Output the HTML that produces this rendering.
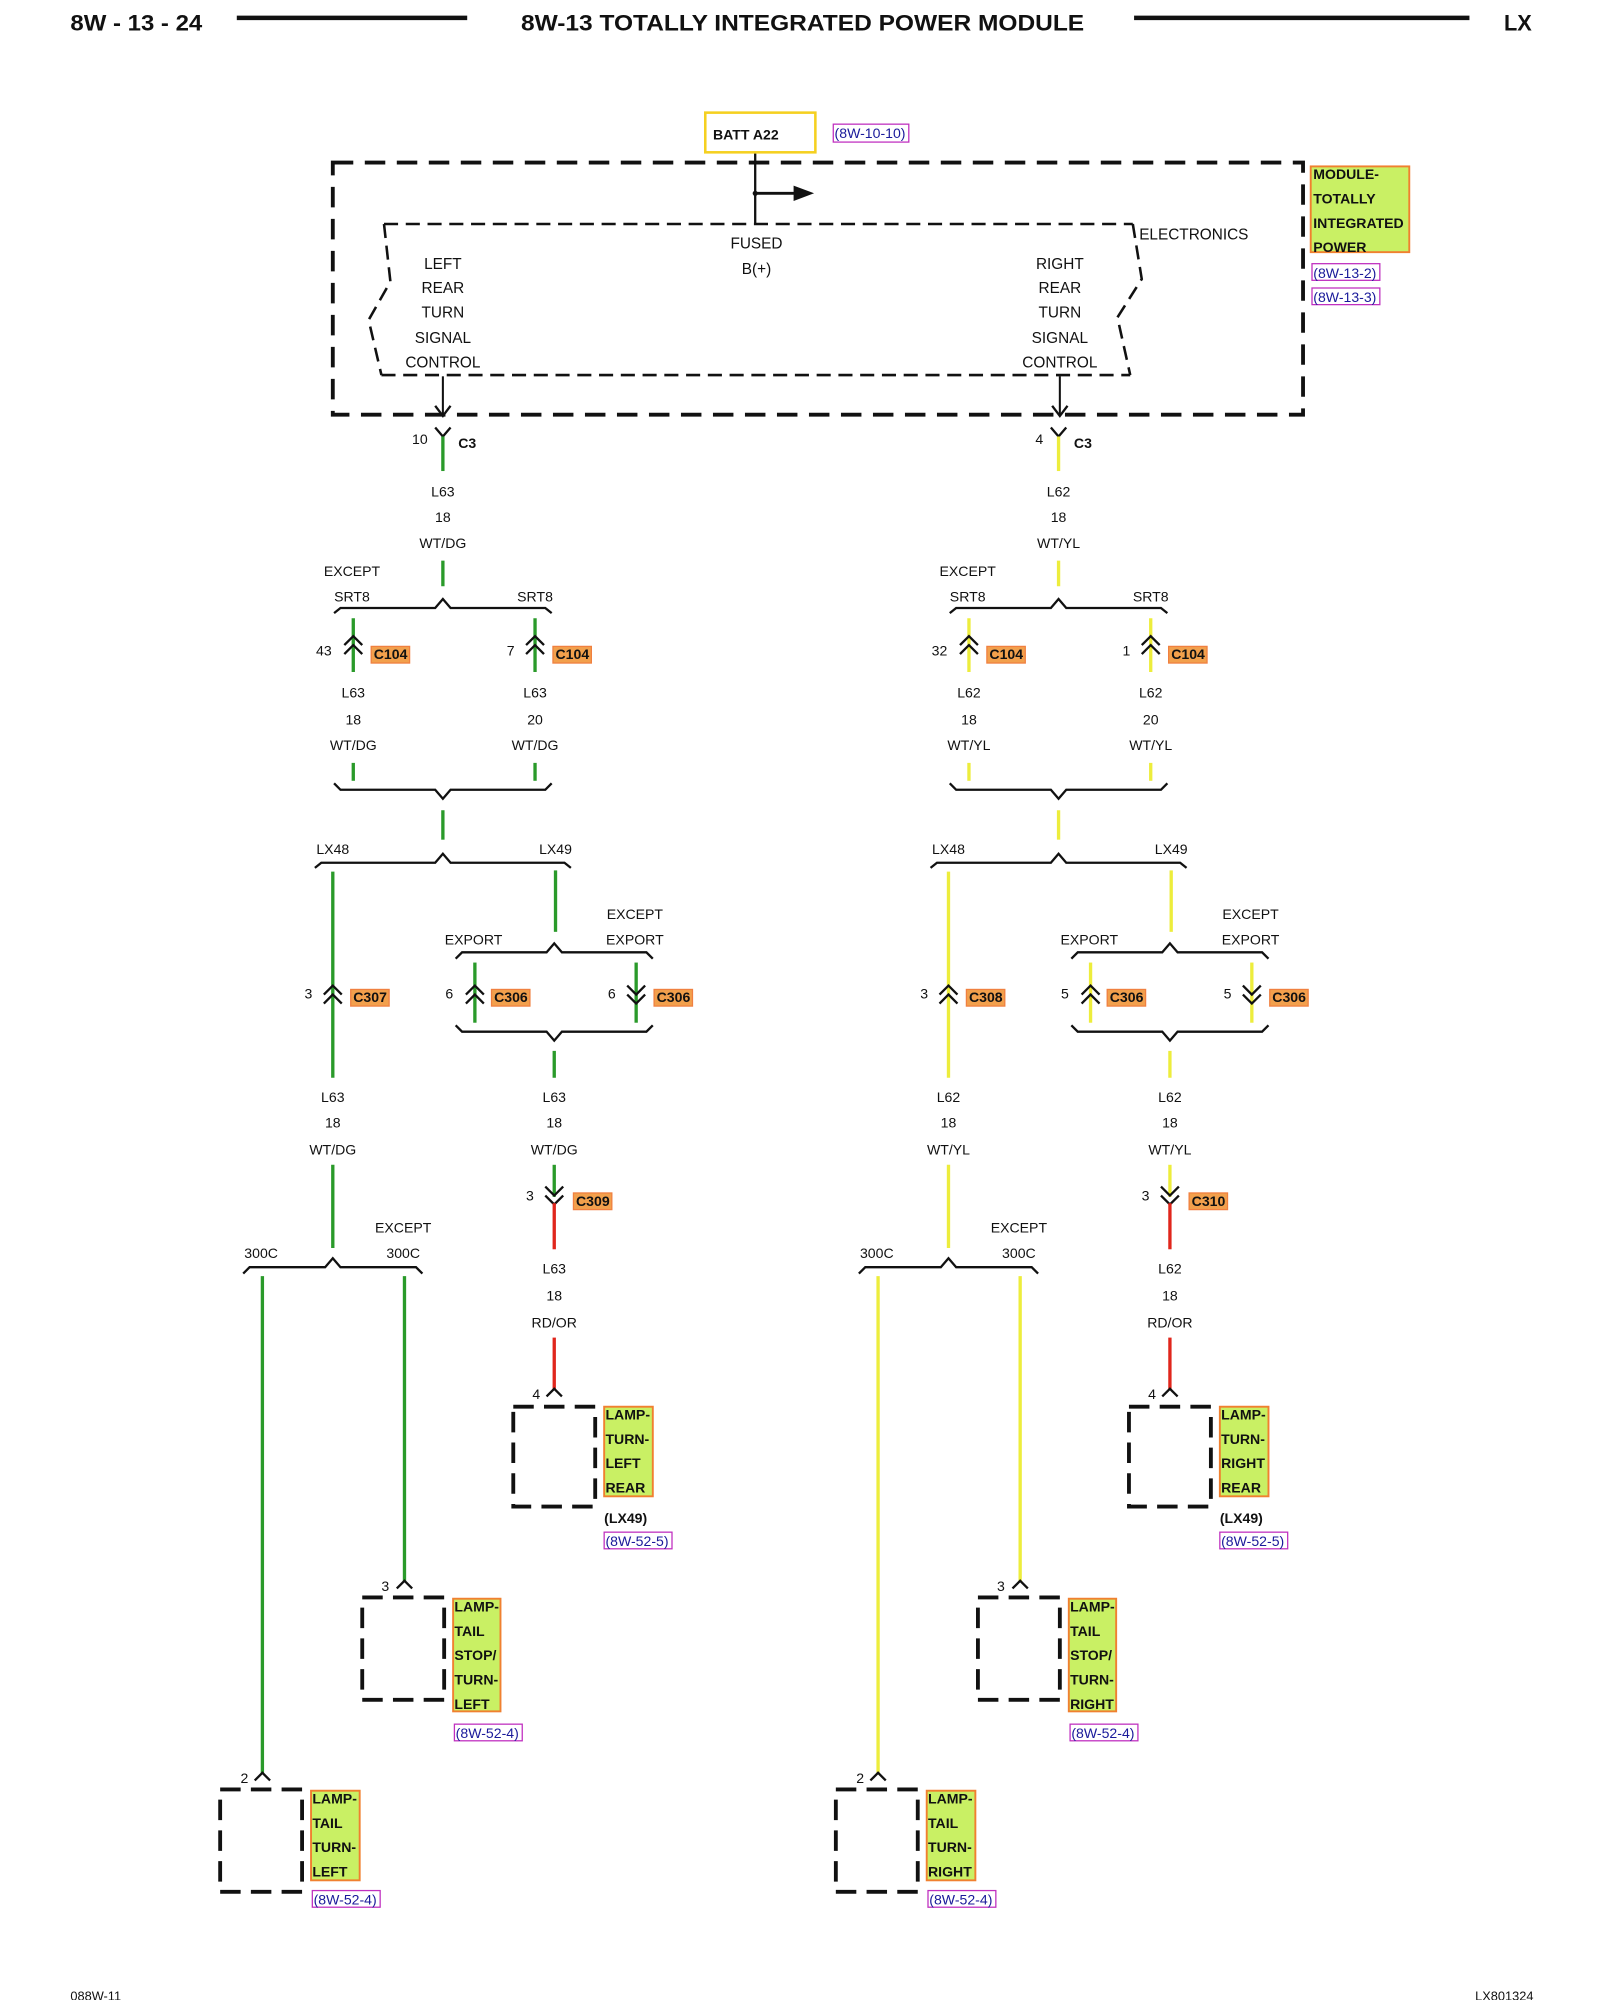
<!DOCTYPE html>
<html><head><meta charset="utf-8"><style>
html,body{margin:0;padding:0;background:#fff;}
svg{display:block;}
text{font-family:"Liberation Sans",sans-serif;fill:#111;}
.t{font-size:12px;text-anchor:middle;}
.n{font-size:11px;text-anchor:middle;}
.b{font-weight:bold;}
.lb{font-size:11px;font-weight:bold;}
.k{fill:none;stroke:#111;stroke-width:1.8;}
.g{stroke:#2a9a2a;stroke-width:2.6;fill:none;}
.y{stroke:#eded3c;stroke-width:2.6;fill:none;}
.r{stroke:#e0261c;stroke-width:2.6;fill:none;}
.cl{fill:#f2a04c;stroke:#f08040;stroke-width:1;}
.ll{fill:#c9f064;stroke:#f08030;stroke-width:1.5;}
.ref{fill:none;stroke:#c030c0;stroke-width:1;}
.rt{font-size:11px;fill:#1a1a9a;}
.box{fill:none;stroke:#111;stroke-width:3;stroke-dasharray:16,8;}
</style></head><body>
<svg width="1600" height="2000" viewBox="0 0 1250 1562.5" xmlns="http://www.w3.org/2000/svg">
<!-- header -->
<text x="55" y="24" style="font-size:17px;font-weight:bold;" textLength="103" lengthAdjust="spacingAndGlyphs">8W - 13 - 24</text>
<line x1="185" y1="14" x2="365" y2="14" stroke="#111" stroke-width="3.5"/>
<text x="407" y="24" style="font-size:17px;font-weight:bold;" textLength="440" lengthAdjust="spacingAndGlyphs">8W-13 TOTALLY INTEGRATED POWER MODULE</text>
<line x1="886" y1="14" x2="1148" y2="14" stroke="#111" stroke-width="3.5"/>
<text x="1175" y="24" style="font-size:17px;font-weight:bold;">LX</text>
<text x="55" y="1563" style="font-size:10px;">088W-11</text>
<text x="1198" y="1563" style="font-size:10px;text-anchor:end;">LX801324</text>

<!-- module -->
<rect x="551" y="88" width="86" height="31" fill="none" stroke="#f5d020" stroke-width="2"/>
<text x="557" y="109" class="lb">BATT A22</text>
<rect x="651" y="97" width="59" height="14" class="ref"/>
<text x="652" y="108" class="rt">(8W-10-10)</text>
<rect x="260" y="127" width="758" height="197" fill="none" stroke="#111" stroke-width="3" stroke-dasharray="16,9"/>
<polyline points="300,175 885,175" fill="none" stroke="#111" stroke-width="2" stroke-dasharray="11,6"/>
<polyline points="298,293 883,293" fill="none" stroke="#111" stroke-width="2" stroke-dasharray="11,6"/>
<polyline points="300,175 305,220 288,250 298,293" fill="none" stroke="#111" stroke-width="2" stroke-dasharray="11,6"/>
<polyline points="885,175 892,218 873,248 883,293" fill="none" stroke="#111" stroke-width="2" stroke-dasharray="11,6"/>
<line x1="590" y1="120" x2="590" y2="175" stroke="#111" stroke-width="1.8"/>
<line x1="590" y1="151" x2="622" y2="151" stroke="#111" stroke-width="2.2"/>
<polygon points="620,145 636,151 620,157" fill="#111"/>
<circle cx="590" cy="151" r="2" fill="#111"/>
<text x="591" y="194" class="t">FUSED</text>
<text x="591" y="214" class="t">B(+)</text>
<text x="890" y="187" style="font-size:12px;">ELECTRONICS</text>
<text x="346" y="210" class="t">LEFT</text><text x="346" y="229" class="t">REAR</text><text x="346" y="248" class="t">TURN</text><text x="346" y="268" class="t">SIGNAL</text><text x="346" y="287" class="t">CONTROL</text>
<text x="828" y="210" class="t">RIGHT</text><text x="828" y="229" class="t">REAR</text><text x="828" y="248" class="t">TURN</text><text x="828" y="268" class="t">SIGNAL</text><text x="828" y="287" class="t">CONTROL</text>
<rect x="1024" y="130" width="77" height="67" class="ll"/>
<text x="1026" y="140" class="lb">MODULE-</text><text x="1026" y="159" class="lb">TOTALLY</text><text x="1026" y="178" class="lb">INTEGRATED</text><text x="1026" y="197" class="lb">POWER</text>
<rect x="1025" y="206" width="53" height="13" class="ref"/><text x="1026" y="217" class="rt">(8W-13-2)</text>
<rect x="1025" y="225" width="53" height="13" class="ref"/><text x="1026" y="236" class="rt">(8W-13-3)</text>

<!-- LEFT SIDE -->
<g>
<line x1="346" y1="294" x2="346" y2="325" stroke="#111" stroke-width="1.6"/>
<polyline points="340,317 346,325 352,317" class="k"/>
<polyline points="340,334 346,341 352,334" class="k"/>
<line x1="346" y1="341" x2="346" y2="368" class="g"/>
<text x="328" y="347" class="n">10</text>
<text x="358" y="350" class="lb">C3</text>
<text x="346" y="388" class="n">L63</text><text x="346" y="408" class="n">18</text><text x="346" y="428" class="n">WT/DG</text>
<line x1="346" y1="438" x2="346" y2="458" class="g"/>
<text x="275" y="450" class="n">EXCEPT</text><text x="275" y="470" class="n">SRT8</text><text x="418" y="470" class="n">SRT8</text>
<polyline points="261,479 266,475 340,475 346,468 352,475 426,475 431,479" class="k"/>
<line x1="276" y1="483" x2="276" y2="525" class="g"/>
<line x1="418" y1="483" x2="418" y2="525" class="g"/>
<polyline points="269,504 276,497 283,504" class="k"/><polyline points="269,511 276,504 283,511" class="k"/>
<polyline points="411,504 418,497 425,504" class="k"/><polyline points="411,511 418,504 425,511" class="k"/>
<text x="253" y="512" class="n">43</text><text x="399" y="512" class="n">7</text>
<rect x="290" y="505" width="30" height="13" class="cl"/><text x="292" y="515" class="lb">C104</text>
<rect x="432" y="505" width="30" height="13" class="cl"/><text x="434" y="515" class="lb">C104</text>
<text x="276" y="545" class="n">L63</text><text x="276" y="566" class="n">18</text><text x="276" y="586" class="n">WT/DG</text>
<text x="418" y="545" class="n">L63</text><text x="418" y="566" class="n">20</text><text x="418" y="586" class="n">WT/DG</text>
<line x1="276" y1="596" x2="276" y2="610" class="g"/><line x1="418" y1="596" x2="418" y2="610" class="g"/>
<polyline points="261,612 266,617 340,617 346,624 352,617 426,617 431,612" class="k"/>
<line x1="346" y1="633" x2="346" y2="656" class="g"/>
<text x="260" y="667" class="n">LX48</text><text x="434" y="667" class="n">LX49</text>
<polyline points="246,678 251,674 340,674 346,667 352,674 441,674 446,678" class="k"/>
<line x1="260" y1="681" x2="260" y2="842" class="g"/>
<line x1="260" y1="910" x2="260" y2="975" class="g"/>
<polyline points="253,777 260,770 267,777" class="k"/><polyline points="253,784 260,777 267,784" class="k"/>
<text x="241" y="780" class="n">3</text>
<rect x="274" y="773" width="30" height="13" class="cl"/><text x="276" y="783" class="lb">C307</text>
<line x1="434" y1="680" x2="434" y2="728" class="g"/>
<text x="370" y="738" class="n">EXPORT</text><text x="496" y="718" class="n">EXCEPT</text><text x="496" y="738" class="n">EXPORT</text>
<polyline points="356,749 361,744 427,744 433,737 439,744 505,744 510,749" class="k"/>
<line x1="371" y1="752" x2="371" y2="799" class="g"/>
<line x1="497" y1="752" x2="497" y2="799" class="g"/>
<polyline points="364,777 371,770 378,777" class="k"/><polyline points="364,784 371,777 378,784" class="k"/>
<polyline points="490,770 497,777 504,770" class="k"/><polyline points="490,777 497,784 504,777" class="k"/>
<text x="351" y="780" class="n">6</text><text x="478" y="780" class="n">6</text>
<rect x="384" y="773" width="30" height="13" class="cl"/><text x="386" y="783" class="lb">C306</text>
<rect x="511" y="773" width="30" height="13" class="cl"/><text x="513" y="783" class="lb">C306</text>
<polyline points="356,801 361,806 427,806 433,813 439,806 505,806 510,801" class="k"/>
<line x1="433" y1="821" x2="433" y2="842" class="g"/>
<text x="260" y="861" class="n">L63</text><text x="260" y="881" class="n">18</text><text x="260" y="902" class="n">WT/DG</text>
<text x="433" y="861" class="n">L63</text><text x="433" y="881" class="n">18</text><text x="433" y="902" class="n">WT/DG</text>
<line x1="433" y1="910" x2="433" y2="935" class="g"/>
<polyline points="426,927 433,934 440,927" class="k"/><polyline points="426,934 433,941 440,934" class="k"/>
<line x1="433" y1="940" x2="433" y2="976" class="r"/>
<text x="414" y="938" class="n">3</text>
<rect x="448" y="932" width="30" height="13" class="cl"/><text x="450" y="942" class="lb">C309</text>
<text x="433" y="995" class="n">L63</text><text x="433" y="1016" class="n">18</text><text x="433" y="1037" class="n">RD/OR</text>
<line x1="433" y1="1045" x2="433" y2="1086" class="r"/>
<polyline points="427,1091 433,1085 439,1091" class="k"/>
<text x="419" y="1093" class="n">4</text>
<rect x="401" y="1099" width="64" height="78" class="box"/>
<rect x="472" y="1099" width="38" height="70" class="ll"/>
<text x="473" y="1109" class="lb">LAMP-</text><text x="473" y="1128" class="lb">TURN-</text><text x="473" y="1147" class="lb">LEFT</text><text x="473" y="1166" class="lb">REAR</text>
<text x="472" y="1190" class="lb">(LX49)</text>
<rect x="472" y="1197" width="53" height="13" class="ref"/><text x="473" y="1208" class="rt">(8W-52-5)</text>
<text x="315" y="963" class="n">EXCEPT</text><text x="204" y="983" class="n">300C</text><text x="315" y="983" class="n">300C</text>
<polyline points="190,995 195,990 254,990 260,983 266,990 325,990 330,995" class="k"/>
<line x1="205" y1="997" x2="205" y2="1386" class="g"/>
<line x1="316" y1="997" x2="316" y2="1236" class="g"/>
<polyline points="310,1241 316,1235 322,1241" class="k"/>
<text x="301" y="1243" class="n">3</text>
<rect x="283" y="1248" width="64" height="80" class="box"/>
<rect x="354" y="1249" width="37" height="88" class="ll"/>
<text x="355" y="1259" class="lb">LAMP-</text><text x="355" y="1278" class="lb">TAIL</text><text x="355" y="1297" class="lb">STOP/</text><text x="355" y="1316" class="lb">TURN-</text><text x="355" y="1335" class="lb">LEFT</text>
<rect x="355" y="1347" width="53" height="13" class="ref"/><text x="356" y="1358" class="rt">(8W-52-4)</text>
<polyline points="199,1391 205,1385 211,1391" class="k"/>
<text x="191" y="1393" class="n">2</text>
<rect x="172" y="1398" width="64" height="80" class="box"/>
<rect x="243" y="1399" width="38" height="70" class="ll"/>
<text x="244" y="1409" class="lb">LAMP-</text><text x="244" y="1428" class="lb">TAIL</text><text x="244" y="1447" class="lb">TURN-</text><text x="244" y="1466" class="lb">LEFT</text>
<rect x="244" y="1477" width="53" height="13" class="ref"/><text x="245" y="1488" class="rt">(8W-52-4)</text>
</g>

<!-- RIGHT SIDE -->
<g transform="translate(481,0)">
<line x1="347" y1="294" x2="347" y2="325" stroke="#111" stroke-width="1.6"/>
<polyline points="341,317 347,325 353,317" class="k"/>
<polyline points="340,334 346,341 352,334" class="k"/>
<line x1="346" y1="341" x2="346" y2="368" class="y"/>
<text x="331" y="347" class="n">4</text>
<text x="358" y="350" class="lb">C3</text>
<text x="346" y="388" class="n">L62</text><text x="346" y="408" class="n">18</text><text x="346" y="428" class="n">WT/YL</text>
<line x1="346" y1="438" x2="346" y2="458" class="y"/>
<text x="275" y="450" class="n">EXCEPT</text><text x="275" y="470" class="n">SRT8</text><text x="418" y="470" class="n">SRT8</text>
<polyline points="261,479 266,475 340,475 346,468 352,475 426,475 431,479" class="k"/>
<line x1="276" y1="483" x2="276" y2="525" class="y"/>
<line x1="418" y1="483" x2="418" y2="525" class="y"/>
<polyline points="269,504 276,497 283,504" class="k"/><polyline points="269,511 276,504 283,511" class="k"/>
<polyline points="411,504 418,497 425,504" class="k"/><polyline points="411,511 418,504 425,511" class="k"/>
<text x="253" y="512" class="n">32</text><text x="399" y="512" class="n">1</text>
<rect x="290" y="505" width="30" height="13" class="cl"/><text x="292" y="515" class="lb">C104</text>
<rect x="432" y="505" width="30" height="13" class="cl"/><text x="434" y="515" class="lb">C104</text>
<text x="276" y="545" class="n">L62</text><text x="276" y="566" class="n">18</text><text x="276" y="586" class="n">WT/YL</text>
<text x="418" y="545" class="n">L62</text><text x="418" y="566" class="n">20</text><text x="418" y="586" class="n">WT/YL</text>
<line x1="276" y1="596" x2="276" y2="610" class="y"/><line x1="418" y1="596" x2="418" y2="610" class="y"/>
<polyline points="261,612 266,617 340,617 346,624 352,617 426,617 431,612" class="k"/>
<line x1="346" y1="633" x2="346" y2="656" class="y"/>
<text x="260" y="667" class="n">LX48</text><text x="434" y="667" class="n">LX49</text>
<polyline points="246,678 251,674 340,674 346,667 352,674 441,674 446,678" class="k"/>
<line x1="260" y1="681" x2="260" y2="842" class="y"/>
<line x1="260" y1="910" x2="260" y2="975" class="y"/>
<polyline points="253,777 260,770 267,777" class="k"/><polyline points="253,784 260,777 267,784" class="k"/>
<text x="241" y="780" class="n">3</text>
<rect x="274" y="773" width="30" height="13" class="cl"/><text x="276" y="783" class="lb">C308</text>
<line x1="434" y1="680" x2="434" y2="728" class="y"/>
<text x="370" y="738" class="n">EXPORT</text><text x="496" y="718" class="n">EXCEPT</text><text x="496" y="738" class="n">EXPORT</text>
<polyline points="356,749 361,744 427,744 433,737 439,744 505,744 510,749" class="k"/>
<line x1="371" y1="752" x2="371" y2="799" class="y"/>
<line x1="497" y1="752" x2="497" y2="799" class="y"/>
<polyline points="364,777 371,770 378,777" class="k"/><polyline points="364,784 371,777 378,784" class="k"/>
<polyline points="490,770 497,777 504,770" class="k"/><polyline points="490,777 497,784 504,777" class="k"/>
<text x="351" y="780" class="n">5</text><text x="478" y="780" class="n">5</text>
<rect x="384" y="773" width="30" height="13" class="cl"/><text x="386" y="783" class="lb">C306</text>
<rect x="511" y="773" width="30" height="13" class="cl"/><text x="513" y="783" class="lb">C306</text>
<polyline points="356,801 361,806 427,806 433,813 439,806 505,806 510,801" class="k"/>
<line x1="433" y1="821" x2="433" y2="842" class="y"/>
<text x="260" y="861" class="n">L62</text><text x="260" y="881" class="n">18</text><text x="260" y="902" class="n">WT/YL</text>
<text x="433" y="861" class="n">L62</text><text x="433" y="881" class="n">18</text><text x="433" y="902" class="n">WT/YL</text>
<line x1="433" y1="910" x2="433" y2="935" class="y"/>
<polyline points="426,927 433,934 440,927" class="k"/><polyline points="426,934 433,941 440,934" class="k"/>
<line x1="433" y1="940" x2="433" y2="976" class="r"/>
<text x="414" y="938" class="n">3</text>
<rect x="448" y="932" width="30" height="13" class="cl"/><text x="450" y="942" class="lb">C310</text>
<text x="433" y="995" class="n">L62</text><text x="433" y="1016" class="n">18</text><text x="433" y="1037" class="n">RD/OR</text>
<line x1="433" y1="1045" x2="433" y2="1086" class="r"/>
<polyline points="427,1091 433,1085 439,1091" class="k"/>
<text x="419" y="1093" class="n">4</text>
<rect x="401" y="1099" width="64" height="78" class="box"/>
<rect x="472" y="1099" width="38" height="70" class="ll"/>
<text x="473" y="1109" class="lb">LAMP-</text><text x="473" y="1128" class="lb">TURN-</text><text x="473" y="1147" class="lb">RIGHT</text><text x="473" y="1166" class="lb">REAR</text>
<text x="472" y="1190" class="lb">(LX49)</text>
<rect x="472" y="1197" width="53" height="13" class="ref"/><text x="473" y="1208" class="rt">(8W-52-5)</text>
<text x="315" y="963" class="n">EXCEPT</text><text x="204" y="983" class="n">300C</text><text x="315" y="983" class="n">300C</text>
<polyline points="190,995 195,990 254,990 260,983 266,990 325,990 330,995" class="k"/>
<line x1="205" y1="997" x2="205" y2="1386" class="y"/>
<line x1="316" y1="997" x2="316" y2="1236" class="y"/>
<polyline points="310,1241 316,1235 322,1241" class="k"/>
<text x="301" y="1243" class="n">3</text>
<rect x="283" y="1248" width="64" height="80" class="box"/>
<rect x="354" y="1249" width="37" height="88" class="ll"/>
<text x="355" y="1259" class="lb">LAMP-</text><text x="355" y="1278" class="lb">TAIL</text><text x="355" y="1297" class="lb">STOP/</text><text x="355" y="1316" class="lb">TURN-</text><text x="355" y="1335" class="lb">RIGHT</text>
<rect x="355" y="1347" width="53" height="13" class="ref"/><text x="356" y="1358" class="rt">(8W-52-4)</text>
<polyline points="199,1391 205,1385 211,1391" class="k"/>
<text x="191" y="1393" class="n">2</text>
<rect x="172" y="1398" width="64" height="80" class="box"/>
<rect x="243" y="1399" width="38" height="70" class="ll"/>
<text x="244" y="1409" class="lb">LAMP-</text><text x="244" y="1428" class="lb">TAIL</text><text x="244" y="1447" class="lb">TURN-</text><text x="244" y="1466" class="lb">RIGHT</text>
<rect x="244" y="1477" width="53" height="13" class="ref"/><text x="245" y="1488" class="rt">(8W-52-4)</text>
</g>
</svg>
</body></html>
